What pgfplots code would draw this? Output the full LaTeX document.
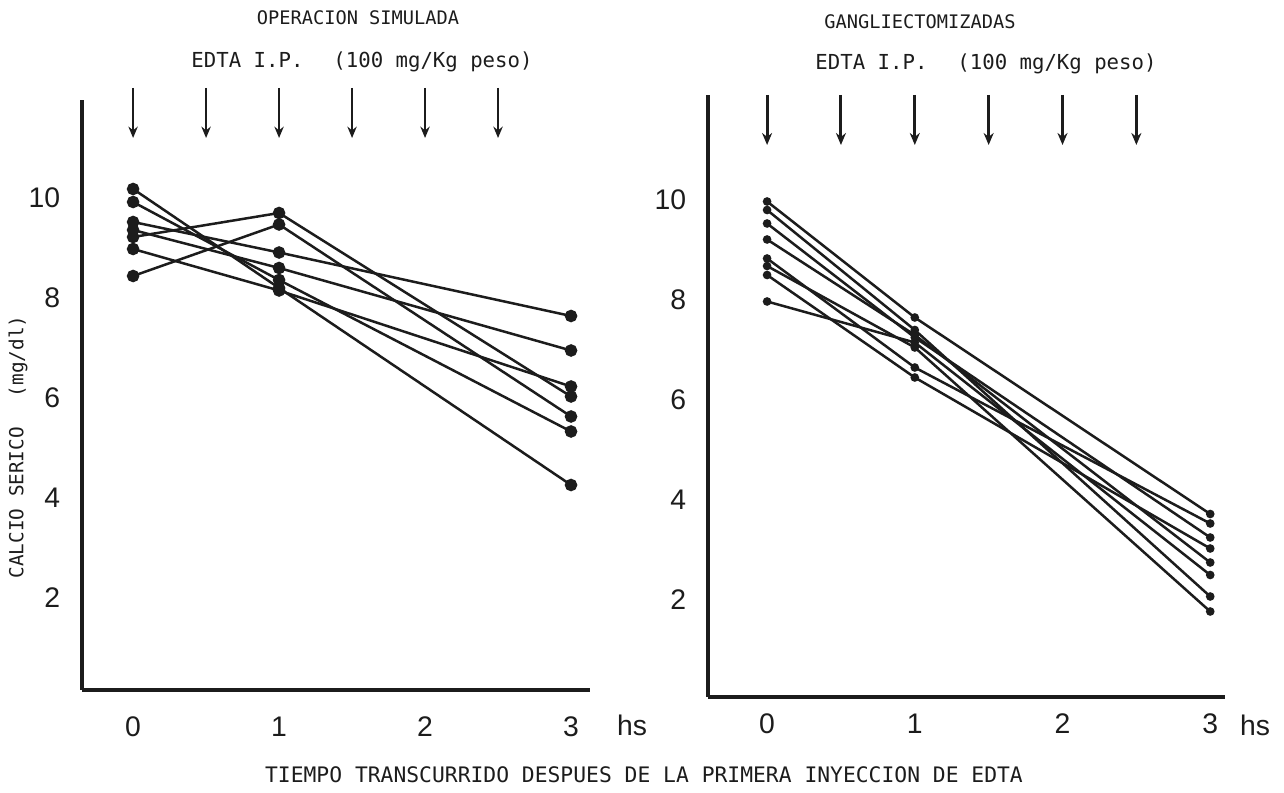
\documentclass[border=0pt]{standalone}
\usepackage{fontspec}
\setmainfont{Liberation Sans}
\newfontfamily\lett{DejaVu Sans Mono}
\usepackage{pgfplots}
\pgfplotsset{compat=1.18}
\usetikzlibrary{arrows.meta}
\definecolor{Ink}{HTML}{1C1C1C}

\pgfplotsset{
  panel/.style={
    scale only axis,anchor=south west,clip=false,
    axis x line*=bottom,axis y line*=left,
    axis line style={draw=Ink,line width=1pt,-},
    xtick={0,1,2,3},ytick={2,4,6,8,10},
    tick style={draw=none},
    /pgf/number format/assume math mode=true,
    tick label style={font=\fontsize{8.5}{10}\selectfont,text=Ink},
    yticklabel style={xshift=-3pt},
  },
  serie/.style={draw=Ink,line width=0.75pt,mark=*,mark options={fill=Ink,draw=Ink}},
}

\begin{document}
\begin{tikzpicture}
\useasboundingbox (0,0) rectangle (385.2pt,237.9pt);

% ---- left panel: operacion simulada
\begin{axis}[panel,at={(24.6pt,30.9pt)},width=152.4pt,height=177pt,
  xmin=-0.35,xmax=3.13,ymin=0.16,ymax=11.96,xticklabel style={yshift=-4.5pt}]
\addplot[serie,mark size=1.5pt] coordinates {(0,10.18) (1,8.20) (3,4.26)};
\addplot[serie,mark size=1.5pt] coordinates {(0,9.92) (1,8.36) (3,5.33)};
\addplot[serie,mark size=1.5pt] coordinates {(0,9.52) (1,8.91) (3,7.64)};
\addplot[serie,mark size=1.5pt] coordinates {(0,9.36) (1,8.60) (3,6.95)};
\addplot[serie,mark size=1.5pt] coordinates {(0,8.98) (1,8.15) (3,6.23)};
\addplot[serie,mark size=1.5pt] coordinates {(0,9.22) (1,9.70) (3,6.03)};
\addplot[serie,mark size=1.5pt] coordinates {(0,8.44) (1,9.47) (3,5.63)};
\pgfplotsinvokeforeach{0,0.5,1,1.5,2,2.5}{
  \draw[Ink,line width=0.8pt,-{Stealth[length=3.4pt,width=2.8pt]}] (axis cs:#1,12.2) -- (axis cs:#1,11.2);
}
\end{axis}

% ---- right panel: gangliectomizadas
\begin{axis}[panel,at={(212.4pt,28.8pt)},width=155.1pt,height=180.6pt,
  xmin=-0.40,xmax=3.10,ymin=0.06,ymax=12.1,xticklabel style={yshift=-1.5pt}]
\addplot[serie,mark size=0.9pt] coordinates {(0,9.97) (1,7.65) (3,3.72)};
\addplot[serie,mark size=0.9pt] coordinates {(0,9.80) (1,7.40) (3,2.07)};
\addplot[serie,mark size=0.9pt] coordinates {(0,9.53) (1,7.25) (3,3.25)};
\addplot[serie,mark size=0.9pt] coordinates {(0,9.21) (1,7.30) (3,2.75)};
\addplot[serie,mark size=0.9pt] coordinates {(0,8.83) (1,6.65) (3,3.53)};
\addplot[serie,mark size=0.9pt] coordinates {(0,8.68) (1,7.05) (3,1.77)};
\addplot[serie,mark size=0.9pt] coordinates {(0,8.50) (1,6.45) (3,3.03)};
\addplot[serie,mark size=0.9pt] coordinates {(0,7.97) (1,7.15) (3,2.50)};
\pgfplotsinvokeforeach{0,0.5,1,1.5,2,2.5}{
  \draw[Ink,line width=0.9pt,-{Stealth[length=3.6pt,width=3pt]}] (axis cs:#1,12.1) -- (axis cs:#1,11.1);
}
\end{axis}

% ---- lettering
\node[font=\lett\fontsize{5.6}{6}\selectfont,text=Ink] at (107.4pt,232.5pt) {OPERACION SIMULADA};
\node[font=\lett\fontsize{6.2}{7}\selectfont,text=Ink] at (108.6pt,219.3pt) {EDTA I.P.\hspace{9pt}(100 mg/Kg peso)};
\node[font=\lett\fontsize{5.6}{6}\selectfont,text=Ink] at (276pt,231.3pt) {GANGLIECTOMIZADAS};
\node[font=\lett\fontsize{6.2}{7}\selectfont,text=Ink] at (295.8pt,218.7pt) {EDTA I.P.\hspace{9pt}(100 mg/Kg peso)};
\node[font=\lett\fontsize{5.8}{6}\selectfont,text=Ink,rotate=90] at (5.4pt,103.8pt) {CALCIO SERICO\hspace{9pt}(mg/dl)};
\node[font=\lett\fontsize{6.4}{7}\selectfont,text=Ink] at (193.2pt,5.4pt) {TIEMPO TRANSCURRIDO DESPUES DE LA PRIMERA INYECCION DE EDTA};
\node[font=\fontsize{8.5}{10}\selectfont,text=Ink] at (189.6pt,20.4pt) {hs};
\node[font=\fontsize{8.5}{10}\selectfont,text=Ink] at (376.5pt,20.4pt) {hs};
\end{tikzpicture}
\end{document}
